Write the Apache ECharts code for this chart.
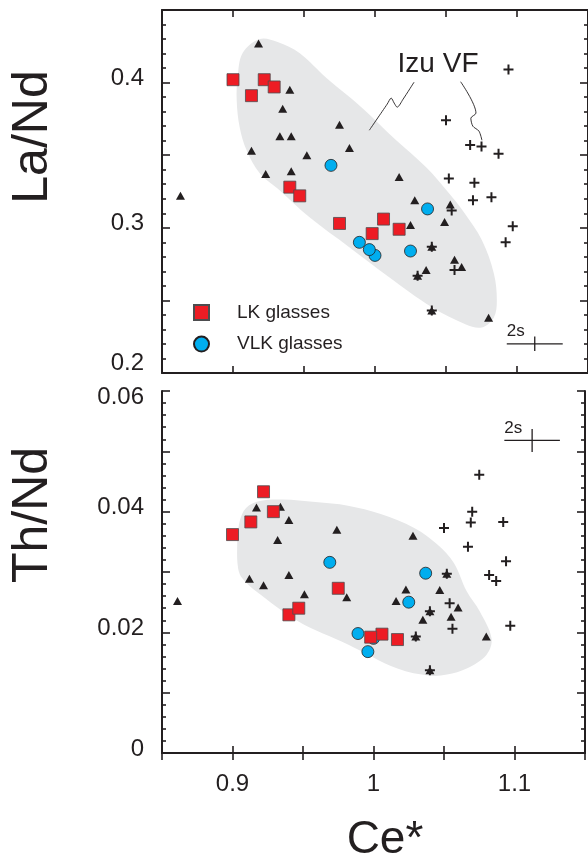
<!DOCTYPE html>
<html>
<head>
<meta charset="utf-8">
<script src="https://cdn.jsdelivr.net/npm/echarts@6/dist/echarts.min.js"></script>
<style>
  html, body { margin: 0; padding: 0; background: #fff; }
  #chart { width: 588px; height: 868px; }
</style>
</head>
<body>
<div id="chart"></div>
<script>
// LK glasses
const ceLK    = [0.900, 0.922, 0.929, 0.913, 0.940, 0.947, 0.975, 1.006, 0.998, 1.017];
const laNdLK  = [0.402, 0.402, 0.397, 0.391, 0.328, 0.322, 0.303, 0.306, 0.296, 0.299];
const thNdLK  = [0.0362, 0.0433, 0.0400, 0.0383, 0.0229, 0.0240, 0.0273, 0.0197, 0.0192, 0.0188];

// VLK glasses
const ceVLK   = [0.969, 1.037, 1.025, 0.989, 1.000, 0.996];
const laNdVLK = [0.343, 0.313, 0.284, 0.290, 0.281, 0.285];
const thNdVLK = [0.0316, 0.0298, 0.0250, 0.0198, 0.0190, 0.0168];

// Izu volcanic front lavas (crosses)
const ceIzu   = [1.094, 1.050, 1.067, 1.075, 1.087, 1.052, 1.070, 1.069, 1.082, 1.054, 1.097, 1.092, 1.056, 1.040, 1.030, 1.040];
const laNdIzu = [0.409, 0.374, 0.357, 0.356, 0.351, 0.334, 0.331, 0.319, 0.321, 0.312, 0.301, 0.290, 0.271, 0.287, 0.267, 0.243];
const thNdIzu = [0.0318, 0.0373, 0.0342, 0.0461, 0.0285, 0.0297, 0.0400, 0.0382, 0.0295, 0.0248, 0.0211, 0.0383, 0.0206, 0.0235, 0.0193, 0.0137];

// Other arc volcanics (triangles)
const ceTriLa = [0.918, 0.940, 0.935, 0.933, 0.941, 0.975, 0.913, 0.982, 0.952, 0.923, 0.941, 1.017,
                 0.863, 1.028, 1.053, 1.025, 1.049, 1.040, 1.056, 1.061, 1.036, 1.030, 1.040, 1.080];
const laNdTri = [0.427, 0.395, 0.382, 0.363, 0.363, 0.371, 0.353, 0.355, 0.350, 0.337, 0.339, 0.335,
                 0.322, 0.319, 0.316, 0.302, 0.304, 0.287, 0.278, 0.273, 0.271, 0.267, 0.243, 0.238];
const ceTriTh = [0.917, 0.934, 0.940, 0.974, 1.028, 0.932, 0.912, 0.940, 1.052, 0.922, 0.861, 0.951,
                 0.981, 1.023, 1.047, 1.016, 1.060, 1.040, 1.055, 1.035, 1.030, 1.080, 1.040];
const thNdTri = [0.0407, 0.0408, 0.0386, 0.0370, 0.0360, 0.0353, 0.0289, 0.0295, 0.0297, 0.0278, 0.0252, 0.0263,
                 0.0258, 0.0271, 0.0270, 0.0252, 0.0241, 0.0235, 0.0226, 0.0221, 0.0193, 0.0193, 0.0137];

// Izu VF field outlines (Ce*, ratio)
const fieldLaCe = [0.9188, 0.9314, 0.9468, 0.9658, 0.9904, 1.0149, 1.0360, 1.0521, 1.0626, 1.0753, 1.0837, 1.0858, 1.0837,
                   1.0753, 1.0640, 1.0402, 1.0100, 0.9819, 0.9539, 0.9328, 0.9188, 0.9096, 0.9047, 0.9026, 0.9033, 0.9068];
const fieldLa   = [0.4300, 0.4279, 0.4203, 0.4031, 0.3831, 0.3603, 0.3417, 0.3238, 0.3107, 0.2914, 0.2686, 0.2500, 0.2383,
                   0.2314, 0.2334, 0.2452, 0.2659, 0.2866, 0.3072, 0.3259, 0.3376, 0.3534, 0.3693, 0.3879, 0.4038, 0.4203];
const fieldThCe = [0.9096, 0.9202, 0.9356, 0.9588, 0.9819, 1.0051, 1.0289, 1.0451, 1.0570, 1.0661, 1.0753, 1.0837,
                   1.0802, 1.0661, 1.0521, 1.0402, 1.0170, 0.9819, 0.9468, 0.9167, 0.9068, 0.9040, 0.9033, 0.9047];
const fieldTh   = [0.0406, 0.0418, 0.0420, 0.0416, 0.0410, 0.0396, 0.0373, 0.0346, 0.0315, 0.0268, 0.0235, 0.0190,
                   0.0163, 0.0140, 0.0130, 0.0128, 0.0140, 0.0180, 0.0218, 0.0268, 0.0290, 0.0306, 0.0340, 0.0380];

// Leader lines from the "Izu VF" label
const leaderACe = [1.0275, 1.0198, 1.0156, 1.0135, 1.0114, 1.0086, 0.9960];
const leaderALa = [0.4003, 0.3886, 0.3831, 0.3859, 0.3893, 0.3852, 0.3672];
const leaderBCe = [1.0603, 1.0711, 1.0675, 1.0689, 1.0732, 1.0753];
const leaderBLa = [0.4006, 0.3790, 0.3755, 0.3700, 0.3666, 0.3603];
const fieldLabelPos = [1.0444, 0.4128];

// 2s analytical uncertainty (centre and half-lengths)
const errCenterLa = [1.1125, 0.2201];
const errCenterTh = [1.1125, 0.0518];
const errCe = 0.0197, errLa = 0.0050, errTh = 0.0019;

const INK = '#231f20';
const FONT = '"Liberation Sans", Arial, Helvetica, sans-serif';
const PLUS = 'path://M4,0H6V4H10V6H6V10H4V6H0V4H4Z';

const zip = (a, b) => a.map((v, i) => [v, b[i]]);

function fieldSeries(xi, yi, ce, r) {
  const pts = zip(ce, r);
  return {
    type: 'custom', xAxisIndex: xi, yAxisIndex: yi, silent: true, z: 1,
    data: [pts[0]],
    renderItem: (params, api) => ({
      type: 'polygon',
      shape: { points: pts.map(p => api.coord(p)), smooth: 0.35 },
      style: { fill: '#e6e7e8' }
    })
  };
}

function fieldLabel(pos, text) {
  return {
    type: 'custom', xAxisIndex: 0, yAxisIndex: 0, silent: true, z: 5,
    data: [pos],
    renderItem: (params, api) => {
      const p = api.coord(pos);
      return { type: 'text', x: p[0], y: p[1],
               style: { text: text, fontSize: 28, fontFamily: FONT, fill: INK, align: 'center', verticalAlign: 'middle' } };
    }
  };
}

function errSeries(xi, yi, c, dy) {
  return {
    type: 'custom', xAxisIndex: xi, yAxisIndex: yi, silent: true, z: 5,
    data: [c],
    renderItem: (params, api) => {
      const l = api.coord([c[0] - errCe, c[1]]);
      const r = api.coord([c[0] + errCe, c[1]]);
      const t = api.coord([c[0], c[1] + dy]);
      const b = api.coord([c[0], c[1] - dy]);
      const ls = { stroke: INK, lineWidth: 1.3 };
      return {
        type: 'group',
        children: [
          { type: 'line', shape: { x1: l[0], y1: l[1], x2: r[0], y2: r[1] }, style: ls },
          { type: 'line', shape: { x1: t[0], y1: t[1], x2: b[0], y2: b[1] }, style: ls },
          { type: 'text', x: l[0], y: l[1] - 4,
            style: { text: '2s', fontSize: 17, fontFamily: FONT, fill: INK, align: 'left', verticalAlign: 'bottom' } }
        ]
      };
    }
  };
}

function tri(xi, yi, ce, r) {
  return { type: 'scatter', xAxisIndex: xi, yAxisIndex: yi, z: 3, symbol: 'triangle', symbolSize: [9, 8],
           itemStyle: { color: INK, opacity: 1 }, data: zip(ce, r) };
}
function cross(xi, yi, ce, r) {
  return { type: 'scatter', xAxisIndex: xi, yAxisIndex: yi, z: 4, symbol: PLUS, symbolSize: 10,
           itemStyle: { color: INK, opacity: 1 }, data: zip(ce, r) };
}
function vlk(xi, yi, ce, r) {
  return { name: 'VLK glasses', type: 'scatter', xAxisIndex: xi, yAxisIndex: yi, z: 6, symbol: 'circle', symbolSize: 12,
           itemStyle: { color: '#00aeef', borderColor: INK, borderWidth: 0.8, opacity: 1 }, data: zip(ce, r) };
}
function lk(xi, yi, ce, r) {
  return { name: 'LK glasses', type: 'scatter', xAxisIndex: xi, yAxisIndex: yi, z: 7, symbol: 'rect', symbolSize: 12,
           itemStyle: { color: '#ed1c24', borderColor: '#4d4d4f', borderWidth: 0.8, opacity: 1 }, data: zip(ce, r) };
}
function leader(ce, r) {
  return { type: 'line', xAxisIndex: 0, yAxisIndex: 0, z: 4, silent: true, symbol: 'none', smooth: 0.3,
           lineStyle: { color: INK, width: 0.9 }, data: zip(ce, r) };
}

const axisLineStyle = { show: true, lineStyle: { color: INK, width: 2 } };

function xAx(grid, pos, labels) {
  return {
    type: 'value', gridIndex: grid, position: pos, min: 0.85, max: 1.15, interval: 0.05,
    axisLine: axisLineStyle,
    axisTick: { show: true, inside: true, length: 7, lineStyle: { color: INK, width: 1.6 } },
    splitLine: { show: false },
    axisLabel: labels ? {
      show: true, margin: 19, fontSize: 24, color: INK, fontFamily: FONT,
      formatter: v => (Math.round(v * 100) % 10 === 0 ? String(Math.round(v * 10) / 10) : '')
    } : { show: false }
  };
}

function yAx(grid, pos, min, max, interval, fmt) {
  return {
    type: 'value', gridIndex: grid, position: pos, min: min, max: max, interval: interval,
    axisLine: axisLineStyle,
    axisTick: { show: true, inside: true, length: 8, lineStyle: { color: INK, width: 1.6 } },
    minorTick: { show: true, splitNumber: 5, length: 4, lineStyle: { color: INK, width: 1.6 } },
    splitLine: { show: false },
    minorSplitLine: { show: false },
    axisLabel: fmt ? {
      show: true, margin: 18, fontSize: 24, color: INK, fontFamily: FONT, formatter: fmt,
      rich: {
        u:  { fontSize: 24, fontFamily: FONT, color: INK, padding: [0, 0, 8, 0] },
        uu: { fontSize: 24, fontFamily: FONT, color: INK, padding: [0, 0, 20, 0] },
        d:  { fontSize: 24, fontFamily: FONT, color: INK, padding: [12, 0, 0, 0] }
      }
    } : { show: false }
  };
}

const laFmt = v => {
  const k = Math.round(v * 100);
  if (k % 10 !== 0) return '';
  const s = String(k / 100);
  return k === 20 ? '{uu|' + s + '}' : '{u|' + s + '}';
};
const thFmt = v => {
  const k = Math.round(v * 1000);
  if (k % 20 !== 0) return '';
  const s = String(k / 1000);
  return k === 60 ? '{d|' + s + '}' : '{u|' + s + '}';
};

const chart = echarts.init(document.getElementById('chart'), null, { renderer: 'canvas' });
chart.setOption({
  animation: false,
  backgroundColor: '#ffffff',
  textStyle: { fontFamily: FONT },
  grid: [
    { left: 162, top: 10, width: 427, height: 363 },
    { left: 162, top: 391, width: 427, height: 362 }
  ],
  xAxis: [xAx(0, 'bottom', false), xAx(0, 'top', false), xAx(1, 'bottom', true), xAx(1, 'top', false)],
  yAxis: [
    yAx(0, 'left', 0.2, 0.45, 0.05, laFmt), yAx(0, 'right', 0.2, 0.45, 0.05, null),
    yAx(1, 'left', 0, 0.06, 0.01, thFmt), yAx(1, 'right', 0, 0.06, 0.01, null)
  ],
  legend: {
    orient: 'vertical', left: 193, top: 303, padding: 0,
    itemWidth: 15, itemHeight: 15, itemGap: 12.6, selectedMode: false,
    data: ['LK glasses', 'VLK glasses'],
    textStyle: { fontSize: 19, lineHeight: 15, color: INK, fontFamily: FONT, padding: [0, 0, 0, 23] }
  },
  graphic: [
    { type: 'text', x: 33, y: 137, rotation: Math.PI / 2,
      style: { text: 'La/Nd', fontSize: 50, fontFamily: FONT, fill: INK, align: 'center', verticalAlign: 'middle' } },
    { type: 'text', x: 33, y: 515, rotation: Math.PI / 2,
      style: { text: 'Th/Nd', fontSize: 50, fontFamily: FONT, fill: INK, align: 'center', verticalAlign: 'middle' } },
    { type: 'text', x: 385, y: 840,
      style: { text: 'Ce*', fontSize: 46, fontFamily: FONT, fill: INK, align: 'center', verticalAlign: 'middle' } }
  ],
  series: [
    fieldSeries(0, 0, fieldLaCe, fieldLa),
    fieldSeries(2, 2, fieldThCe, fieldTh),
    leader(leaderACe, leaderALa),
    leader(leaderBCe, leaderBLa),
    fieldLabel(fieldLabelPos, 'Izu VF'),
    tri(0, 0, ceTriLa, laNdTri),
    tri(2, 2, ceTriTh, thNdTri),
    cross(0, 0, ceIzu, laNdIzu),
    cross(2, 2, ceIzu, thNdIzu),
    vlk(0, 0, ceVLK, laNdVLK),
    vlk(2, 2, ceVLK, thNdVLK),
    lk(0, 0, ceLK, laNdLK),
    lk(2, 2, ceLK, thNdLK),
    errSeries(0, 0, errCenterLa, errLa),
    errSeries(2, 2, errCenterTh, errTh)
  ]
});
</script>
</body>
</html>
